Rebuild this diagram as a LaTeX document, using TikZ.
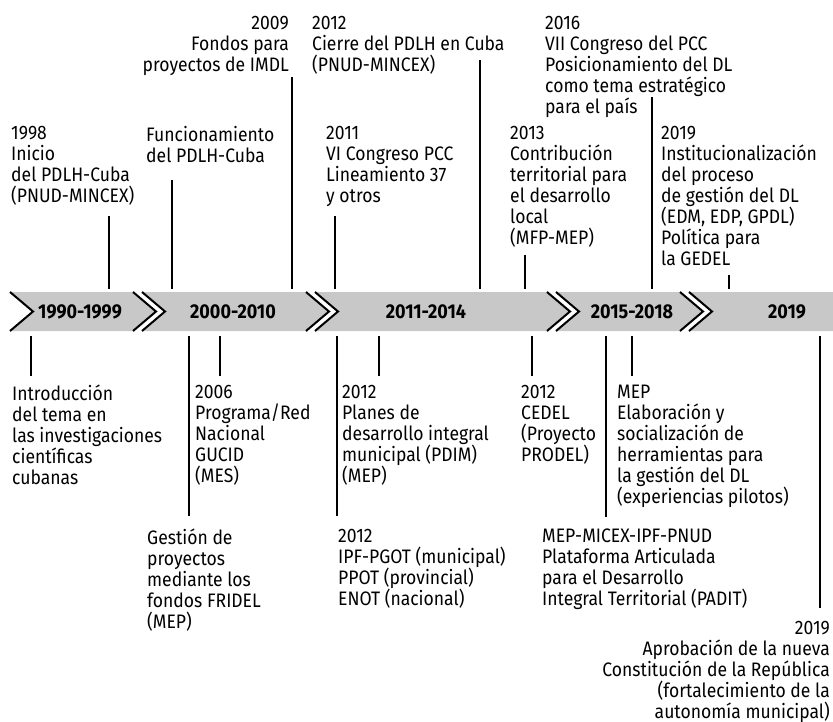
\documentclass[tikz,border=0pt]{standalone}
\usepackage{fontspec}
\setmainfont{Fira Sans}[FakeStretch=0.9]
\definecolor{bargray}{RGB}{200,200,200}
\tikzset{
	evt/.style = {font=\fontsize{19.5}{21}\selectfont, align=left, inner sep=0pt, anchor=north west, execute at begin node=\rule{0pt}{16pt}},
	evtr/.style = {evt, align=right, anchor=north east},
	tick/.style = {line width=2pt},
	period/.style = {font=\fontsize{20}{22}\selectfont\bfseries, inner sep=0pt}
}

\begin{document}
\begin{tikzpicture}[x=1pt, y=-1pt]
	\useasboundingbox (0,0) rectangle (833,722);
	\foreach \l/\r in {10/133, 142/306, 315/547, 556/680}
	{
	\fill [bargray] (\l,292) -- (\r,292) -- (\r+23,311.5) -- (\r,331) -- (\l,331) -- (\l+23,311.5) -- cycle;
	\draw [line width=2pt] (\l,292) -- (\l+23,311.5) -- (\l,331);
	\draw [line width=2pt] (\r,292) -- (\r+23,311.5) -- (\r,331);
	}
	\fill [bargray] (689,292) -- (833,292) -- (833,331) -- (689,331) -- (712,311.5) -- cycle;
	\draw [line width=2pt] (689,292) -- (712,311.5) -- (689,331);
	\node [period] (p1) at (80,311.5) {1990-1999};
	\node [period] (p2) at (233,311.5) {2000-2010};
	\node [period] (p3) at (426,311.5) {2011-2014};
	\node [period] (p4) at (632,311.5) {2015-2018};
	\node [period] (p5) at (787,311.5) {2019};

	\node [evt] (e1998) at (11,126) {1998\\Inicio\\del PDLH-Cuba\\(PNUD-MINCEX)};
	\node [evt] (efunc) at (146,126) {Funcionamiento\\del PDLH-Cuba};
	\node [evtr] (e2009) at (289,16) {2009\\Fondos para\\proyectos de IMDL};
	\node [evt] (ecierre) at (312,16) {2012\\Cierre del PDLH en Cuba\\(PNUD-MINCEX)};
	\node [evt] (e2011) at (326,126) {2011\\VI Congreso PCC\\Lineamiento 37\\y otros};
	\node [evt] (e2013) at (510,126) {2013\\Contribución\\territorial para\\el desarrollo\\local\\(MFP-MEP)};
	\node [evt] (e2016) at (545,16) {2016\\VII Congreso del PCC\\Posicionamiento del DL\\como tema estratégico\\para el país};
	\node [evt] (einst) at (661,126) {2019\\Institucionalización\\del proceso\\de gestión del DL\\(EDM, EDP, GPDL)\\Política para\\la GEDEL};

	\node [evt] (eintro) at (12,385) {Introducción\\del tema en\\las investigaciones\\científicas\\cubanas};
	\node [evt] (egest) at (147,529) {Gestión de\\proyectos\\mediante los\\fondos FRIDEL\\(MEP)};
	\node [evt] (e2006) at (195,385) {2006\\Programa/Red\\Nacional\\GUCID\\(MES)};
	\node [evt] (eplanes) at (342,385) {2012\\Planes de\\desarrollo integral\\municipal (PDIM)\\(MEP)};
	\node [evt] (eipf) at (338,529) {2012\\IPF-PGOT (municipal)\\PPOT (provincial)\\ENOT (nacional)};
	\node [evt] (ecedel) at (521,385) {2012\\CEDEL\\(Proyecto\\PRODEL)};
	\node [evt] (emep) at (617,385) {MEP\\Elaboración y\\socialización de\\herramientas para\\la gestión del DL\\(experiencias pilotos)};
	\node [evt] (epadit) at (542,529) {MEP-MICEX-IPF-PNUD\\Plataforma Articulada\\para el Desarrollo\\Integral Territorial (PADIT)};
	\node [evtr] (econst) at (830,621) {2019\\Aprobación de la nueva\\Constitución de la República\\(fortalecimiento de la\\autonomía municipal)};

	\coordinate (bartop) at (0,289);
	\coordinate (barbot) at (0,336);
	\foreach \n/\x/\y in {t1/109/216, t2/172/180, t3/292/77, t4/335/216, t5/480/60, t6/525/255, t7/652/97, t8/729/275}
	\coordinate (\n) at (\x,\y);
	\foreach \n/\x/\y in {b1/31/376, b2/189/516, b3/220/376, b4/337/516, b5/379/376, b6/532/376, b7/606/517, b8/632/376, b9/820/608}
	\coordinate (\n) at (\x,\y);
	\foreach \n in {t1,t2,t3,t4,t5,t6,t7,t8}
	\draw [tick] (\n) -- (\n |- bartop);
	\foreach \n in {b1,b2,b3,b4,b5,b6,b7,b8,b9}
	\draw [tick] (\n |- barbot) -- (\n);
\end{tikzpicture}
\end{document}
